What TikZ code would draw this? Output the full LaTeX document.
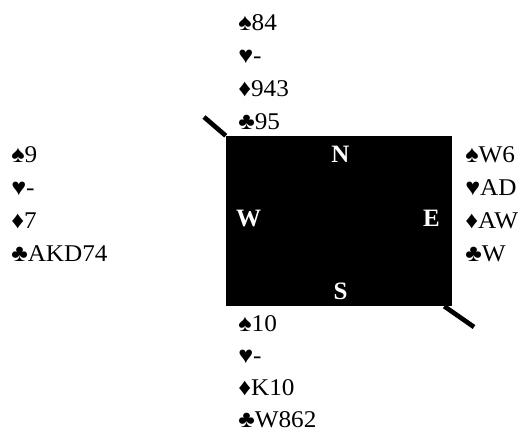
\documentclass[tikz,border=0pt]{standalone}
\usepackage{fontspec}
\setmainfont{Liberation Serif}
\newfontfamily\cardfont{Liberation Serif}[FakeStretch=1.05]
\usepackage{tikz}

\begin{document}
\begin{tikzpicture}[x=0.75pt, y=-0.75pt,
  hand/.style={anchor=base west, inner sep=0, font=\cardfont\fontsize{18}{20}\selectfont},
  seat/.style={anchor=base, inner sep=0, text=white, font=\bfseries\fontsize{18.75}{20}\selectfont},
  table/.style={fill=black, minimum width=169.5pt, minimum height=127.5pt, inner sep=0},
  stick/.style={line width=3.5pt}]

  \useasboundingbox (0, 0) rectangle (527, 432);

  % table and the two sticks
  \node[table] (table) at (339, 221) {};
  \coordinate (nwend) at (204, 117);
  \coordinate (seend) at (474, 327);
  \draw[stick] (table.north west) -- (nwend);
  \draw[stick] ([xshift=-6pt]table.south east) -- (seend);

  \node[seat] (N) at (340.5, 162) {N};
  \node[seat] (W) at (248.5, 226) {W};
  \node[seat] (E) at (431.5, 226) {E};
  \node[seat] (S) at (340.5, 299) {S};

  % hands
  \foreach \suit/\cards [count=\i from 0] in {♠/84, ♥/-, ♦/943, ♣/95}
    \node[hand] (north\i) at (238, 30+33*\i) {\suit\cards};
  \foreach \suit/\cards [count=\i from 0] in {♠/9, ♥/-, ♦/7, ♣/AKD74}
    \node[hand] (west\i) at (11, 162+33*\i) {\suit\cards};
  \foreach \suit/\cards [count=\i from 0] in {♠/W6, ♥/AD, ♦/AW, ♣/W}
    \node[hand] (east\i) at (465, 162+33*\i) {\suit\cards};
  \foreach \suit/\cards [count=\i from 0] in {♠/10, ♥/-, ♦/K10, ♣/W862}
    \node[hand] (south\i) at (238, 331+32*\i) {\suit\cards};

\end{tikzpicture}
\end{document}
